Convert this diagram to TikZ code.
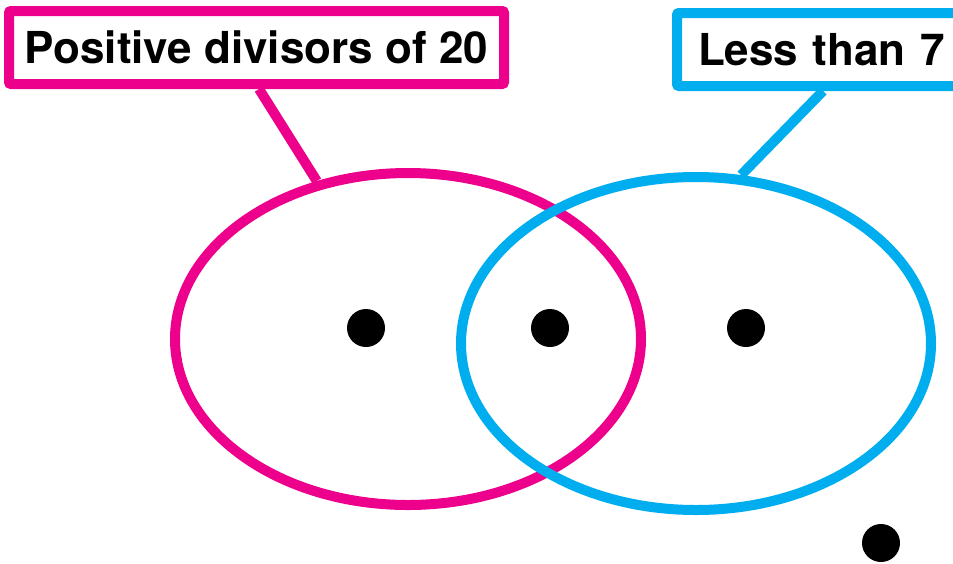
\documentclass[tikz,border=0pt]{standalone}
\usepackage{fontspec}
\setmainfont{TeX Gyre Heros}
\usetikzlibrary{shapes.geometric,calc}
\definecolor{vpink}{HTML}{EC008C}
\definecolor{vblue}{HTML}{00AEEF}
\begin{document}
\begin{tikzpicture}[x=1pt,y=-1pt,
  setell/.style={ellipse,draw,line width=10pt,inner sep=0pt},
  labelbox/.style={fill=white,text=black,line width=10pt,rounded corners=2pt,minimum height=73pt,inner ysep=0pt,
    font=\fontsize{44}{44}\selectfont\bfseries},
  leader/.style={line width=10pt},
  dot/.style={circle,fill=black,inner sep=0pt,minimum size=38pt}]
\useasboundingbox (0,0) rectangle (953,563);
\node[setell,draw=vpink,minimum width=466pt,minimum height=332pt] (pe) at (408,339) {};
\node[setell,draw=vblue,minimum width=470pt,minimum height=333pt] (be) at (696,343.5) {};
\node[labelbox,draw=vpink,minimum width=495pt,inner xsep=0pt] (pb) at (256.5,47.5) {Positive divisors of 20};
\node[labelbox,draw=vblue,anchor=west,text width=280pt,align=left,inner xsep=21pt] (lb) at (672,49.5) {Less than 7};
\draw[leader,vpink] ([xshift=2.5pt]pb.south) -- (pe.120);
\draw[leader,vblue] ([xshift=151pt]lb.south west) -- (be.75);
\node[dot] (d1) at (366,328) {};
\node[dot] (d2) at (550,328) {};
\node[dot] (d3) at (746,328) {};
\node[dot] (d4) at (881,543) {};
\end{tikzpicture}
\end{document}
